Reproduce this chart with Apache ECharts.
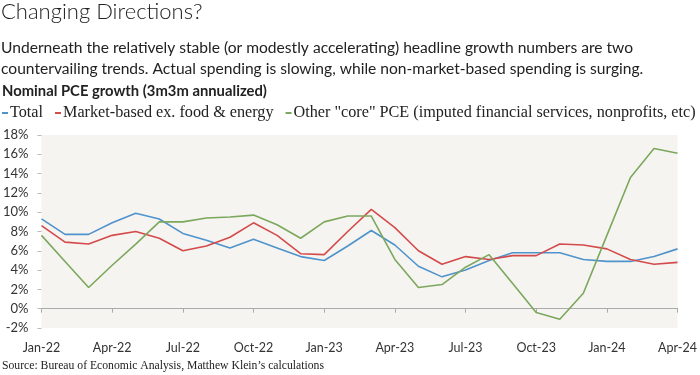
<!DOCTYPE html>
<html>
<head>
<meta charset="utf-8">
<script src="https://cdn.jsdelivr.net/npm/echarts@6/dist/echarts.min.js"></script>
<style>
  html, body { margin: 0; padding: 0; background: #fff; }
  #chart { width: 700px; height: 375px; }
</style>
</head>
<body>
<div id="chart"></div>
<script>
// Data
const months = ['Jan-22', 'Feb-22', 'Mar-22', 'Apr-22', 'May-22', 'Jun-22', 'Jul-22', 'Aug-22', 'Sep-22', 'Oct-22',
  'Nov-22', 'Dec-22', 'Jan-23', 'Feb-23', 'Mar-23', 'Apr-23', 'May-23', 'Jun-23', 'Jul-23', 'Aug-23',
  'Sep-23', 'Oct-23', 'Nov-23', 'Dec-23', 'Jan-24', 'Feb-24', 'Mar-24', 'Apr-24'];
const total = [9.3, 7.7, 7.7, 8.9, 9.9, 9.3, 7.8, 7.1, 6.3, 7.2, 6.3, 5.4, 5.0, 6.5, 8.1, 6.6, 4.4, 3.3, 4.0, 5.0,
  5.8, 5.8, 5.8, 5.1, 4.9, 4.9, 5.4, 6.2];
const marketBased = [8.6, 6.9, 6.7, 7.6, 8.0, 7.3, 6.0, 6.5, 7.4, 8.9, 7.6, 5.7, 5.6, 8.0, 10.3, 8.4, 6.0, 4.6, 5.4, 5.1,
  5.5, 5.5, 6.7, 6.6, 6.2, 5.1, 4.6, 4.8];
const otherCore = [7.6, 4.9, 2.2, 4.5, 6.7, 9.0, 9.0, 9.4, 9.5, 9.7, 8.7, 7.3, 9.0, 9.6, 9.6, 5.1, 2.2, 2.5, 4.3, 5.6,
  2.6, -0.4, -1.1, 1.6, 7.6, 13.6, 16.6, 16.1];
const seriesNames = ['Total', 'Market-based ex. food & energy', 'Other "core" PCE (imputed financial services, nonprofits, etc)'];

const sans = 'Lato, "Open Sans", sans-serif';
const serif = '"Liberation Serif", "DejaVu Serif", serif';

const lineSeries = (name, data, color) => ({
  name: name,
  type: 'line',
  data: data,
  xAxisIndex: 0,
  symbol: 'none',
  lineStyle: { color: color, width: 1.6 },
  itemStyle: { color: color }
});

const option = {
  animation: false,
  backgroundColor: '#fff',
  title: [
    {
      text: 'Changing Directions?',
      left: 1, top: 1, padding: 0,
      textStyle: { fontFamily: sans, fontWeight: 300, fontSize: 22, color: '#222' }
    },
    {
      text: 'Underneath the relatively stable (or modestly accelerating) headline growth numbers are two\ncountervailing trends. Actual spending is slowing, while non-market-based spending is surging.',
      left: 1, top: 37, padding: 0,
      textStyle: { fontFamily: sans, fontWeight: 'normal', fontSize: 15.6, lineHeight: 21, color: '#222' }
    },
    {
      text: 'Nominal PCE growth (3m3m annualized)',
      left: 2, top: 84, padding: 0,
      textStyle: { fontFamily: sans, fontWeight: 'bold', fontSize: 14.8, color: '#222' }
    },
    {
      text: 'Source: Bureau of Economic Analysis, Matthew Klein\u2019s calculations',
      left: 2, top: 360, padding: 0,
      textStyle: { fontFamily: serif, fontWeight: 'normal', fontSize: 11.7, color: '#222' }
    }
  ],
  legend: {
    data: seriesNames,
    left: 2, top: 105, width: 698, padding: 0,
    icon: 'rect', itemWidth: 6, itemHeight: 2, itemGap: 12,
    textStyle: { fontFamily: serif, fontSize: 16.2, color: '#222', padding: [0, 0, 0, -3] }
  },
  grid: {
    left: 35, right: 22, top: 135, bottom: 47,
    show: true, backgroundColor: '#f6f4f1', borderWidth: 0
  },
  xAxis: [
    {
      type: 'category',
      data: months,
      boundaryGap: false,
      axisLine: { show: false, onZero: false },
      axisTick: { show: false },
      axisLabel: { interval: 2, margin: 13, fontFamily: sans, fontSize: 12.5, color: '#333' },
      splitLine: { show: false }
    },
    {
      type: 'category',
      data: months,
      boundaryGap: false,
      position: 'bottom',
      axisLine: { show: true, onZero: true, lineStyle: { color: '#aaa', width: 1.2 } },
      axisTick: { show: true, interval: 2, length: 4, lineStyle: { color: '#aaa' } },
      axisLabel: { show: false },
      splitLine: { show: false }
    }
  ],
  yAxis: {
    type: 'value',
    min: -2, max: 18, interval: 2,
    axisLine: { show: false },
    axisTick: { show: true, length: 4, lineStyle: { color: '#bbb' } },
    axisLabel: { margin: 13, fontFamily: sans, fontSize: 13, color: '#333', formatter: '{value}%' },
    splitLine: { show: false }
  },
  series: [
    lineSeries(seriesNames[0], total, '#4f93cc'),
    lineSeries(seriesNames[1], marketBased, '#d34b4b'),
    lineSeries(seriesNames[2], otherCore, '#7ba85c')
  ]
};

const myChart = echarts.init(document.getElementById('chart'));
myChart.setOption(option);
</script>
</body>
</html>
